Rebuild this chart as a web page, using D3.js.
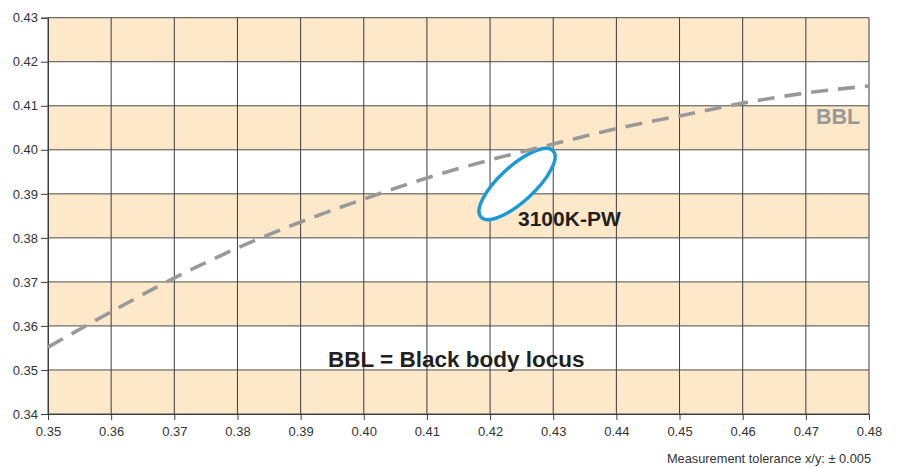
<!DOCTYPE html>
<html>
<head>
<meta charset="utf-8">
<script src="https://cdn.jsdelivr.net/npm/d3@7"></script>
<style>
  body { margin: 0; background: #fff; }
  svg { font-family: "Liberation Sans", Arial, sans-serif; }
</style>
</head>
<body>
<svg width="898" height="468"></svg>
<script>
// Tick values on both axes
const xTicks = [0.35, 0.36, 0.37, 0.38, 0.39, 0.40, 0.41, 0.42, 0.43, 0.44, 0.45, 0.46, 0.47, 0.48];
const yTicks = [0.34, 0.35, 0.36, 0.37, 0.38, 0.39, 0.40, 0.41, 0.42, 0.43];

// Shaded rows (lower edge of each 0.01 band)
const bandStarts = [0.34, 0.36, 0.38, 0.40, 0.42];

// Black body locus
const bblX = [0.35, 0.36, 0.37, 0.38, 0.39, 0.40, 0.41, 0.42, 0.43, 0.44, 0.45, 0.46, 0.47, 0.48];
const bblY = [0.3552, 0.3632, 0.3709, 0.3777, 0.3836, 0.3888, 0.3936, 0.3977, 0.4013, 0.4048, 0.4077, 0.4106, 0.4129, 0.4145];

// 3100K-PW tolerance ellipse: ends of the long axis, and short/long ratio
const ellipseEnds = [[0.41855, 0.38471], [0.42999, 0.39975]];
const ellipseRatio = 0.36;

main = () => {
    let svg = d3.select('svg');

    let left = 48, right = 869, top = 17.7, bottom = 414;

    /********************** SCALES ********************************** */
    let xScale = d3.scaleLinear()
        .domain([0.35, 0.48])
        .range([left, right]);

    let yScale = d3.scaleLinear()
        .domain([0.34, 0.43])
        .range([bottom, top]);

    // Peach bands
    svg.selectAll('rect.band')
        .data(bandStarts)
        .enter()
        .append('rect')
            .attr('class', 'band')
            .attr('x', xScale(0.35))
            .attr('width', xScale(0.48) - xScale(0.35))
            .attr('y', d => yScale(d + 0.01))
            .attr('height', d => yScale(d) - yScale(d + 0.01))
            .style('fill', '#fde8c9');

    // Grid
    svg.selectAll('line.vgrid')
        .data(xTicks)
        .enter()
        .append('line')
            .attr('x1', d => xScale(d)).attr('x2', d => xScale(d))
            .attr('y1', yScale(0.34)).attr('y2', yScale(0.43))
            .style('stroke', '#3c3c3c').style('stroke-width', 1);

    svg.selectAll('line.hgrid')
        .data(yTicks)
        .enter()
        .append('line')
            .attr('x1', xScale(0.35)).attr('x2', xScale(0.48))
            .attr('y1', d => yScale(d)).attr('y2', d => yScale(d))
            .style('stroke', '#4a4a4a').style('stroke-width', 1);

    /********************** AXES ********************************** */
    let xAxis = d3.axisBottom(xScale)
        .tickValues(xTicks)
        .tickFormat(d3.format('.2f'))
        .tickSizeOuter(0)
        .tickSize(6)
        .tickPadding(7);

    let yAxis = d3.axisLeft(yScale)
        .tickValues(yTicks)
        .tickFormat(d3.format('.2f'))
        .tickSizeOuter(0)
        .tickSize(7)
        .tickPadding(3);

    let gx = svg.append('g')
        .attr('transform', `translate(0,${bottom})`)
        .call(xAxis);

    let gy = svg.append('g')
        .attr('transform', `translate(${left},0)`)
        .call(yAxis);

    [gx, gy].forEach(g => {
        g.select('.domain').style('stroke', '#3c3c3c');
        g.selectAll('.tick line').style('stroke', '#3c3c3c');
        g.selectAll('.tick text')
            .style('font-family', '"Liberation Sans", Arial, sans-serif')
            .style('font-size', '13px')
            .style('fill', '#333');
    });

    /********************** ELLIPSE ********************************** */
    let p1 = [xScale(ellipseEnds[0][0]), yScale(ellipseEnds[0][1])];
    let p2 = [xScale(ellipseEnds[1][0]), yScale(ellipseEnds[1][1])];
    let cx = (p1[0] + p2[0]) / 2, cy = (p1[1] + p2[1]) / 2;
    let rx = Math.hypot(p2[0] - p1[0], p2[1] - p1[1]) / 2;
    let angle = Math.atan2(p2[1] - p1[1], p2[0] - p1[0]) * 180 / Math.PI;

    svg.append('ellipse')
        .attr('cx', 0).attr('cy', 0)
        .attr('rx', rx).attr('ry', rx * ellipseRatio)
        .attr('transform', `translate(${cx},${cy}) rotate(${angle})`)
        .style('fill', '#fff')
        .style('stroke', '#1b9ad8')
        .style('stroke-width', 3.5);

    /********************** BBL CURVE ********************************** */
    svg.append('clipPath')
        .attr('id', 'plotClip')
        .append('rect')
            .attr('x', left).attr('y', top)
            .attr('width', right - left).attr('height', bottom - top);

    let line = d3.line()
        .x(d => xScale(d[0]))
        .y(d => yScale(d[1]))
        .curve(d3.curveMonotoneX);

    svg.append('path')
        .datum(bblX.map((x, i) => [x, bblY[i]]))
        .attr('d', line)
        .attr('clip-path', 'url(#plotClip)')
        .style('fill', 'none')
        .style('stroke', '#999')
        .style('stroke-width', 3.6)
        .style('stroke-dasharray', '17,10');

    /********************** LABELS ********************************** */
    svg.append('text')
        .attr('x', 518).attr('y', 226)
        .style('font-size', '21px').style('font-weight', 'bold')
        .style('fill', '#231f20')
        .text('3100K-PW');

    svg.append('text')
        .attr('x', 816).attr('y', 124)
        .style('font-size', '21.5px').style('font-weight', 'bold')
        .style('fill', '#999')
        .text('BBL');

    svg.append('text')
        .attr('x', 328).attr('y', 367)
        .style('font-size', '22.5px').style('font-weight', 'bold')
        .style('fill', '#231f20')
        .text('BBL = Black body locus');

    svg.append('text')
        .attr('x', 871).attr('y', 463)
        .attr('text-anchor', 'end')
        .style('font-size', '12.8px')
        .style('fill', '#333')
        .text('Measurement tolerance x/y: \u00b1 0.005');
}

main();
</script>
</body>
</html>
